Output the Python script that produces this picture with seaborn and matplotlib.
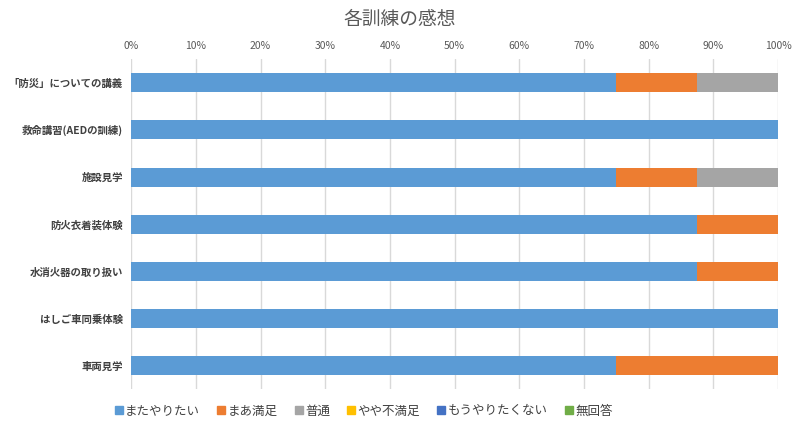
import matplotlib
matplotlib.use("Agg")
import matplotlib.pyplot as plt
import seaborn as sns
import pandas as pd
import numpy as np
from matplotlib.lines import Line2D

categories = ["「防災」についての講義", "救命講習(AEDの訓練)", "施設見学", "防火衣着装体験",
              "水消火器の取り扱い", "はしご車同乗体験", "車両見学"]
series_names = ["またやりたい", "まあ満足", "普通", "やや不満足", "もうやりたくない", "無回答"]
mata = [75, 100, 75, 87.5, 87.5, 100, 75]
maa = [12.5, 0, 12.5, 12.5, 12.5, 0, 25]
futsu = [12.5, 0, 12.5, 0, 0, 0, 0]
yaya = [0, 0, 0, 0, 0, 0, 0]
mou = [0, 0, 0, 0, 0, 0, 0]
mukaitou = [0, 0, 0, 0, 0, 0, 0]
colors = ["#5B9BD5", "#ED7D31", "#A5A5A5", "#FFC000", "#4472C4", "#70AD47"]
xticks = [0, 10, 20, 30, 40, 50, 60, 70, 80, 90, 100]

sns.set_theme(style="white")
plt.rcParams['font.family'] = ['Noto Sans CJK JP', 'DejaVu Sans']

fig = plt.figure(figsize=(8, 4.28), dpi=100)
ax = fig.add_axes([0.164, 0.09, 0.8085, 0.772])

vals = np.array([mata, maa, futsu, yaya, mou, mukaitou], dtype=float)
cum = np.cumsum(vals, axis=0)
for i in range(len(series_names) - 1, -1, -1):
    df = pd.DataFrame({"cat": categories, "val": cum[i]})
    sns.barplot(data=df, y="cat", x="val", color=colors[i], orient="h",
                width=0.4, ax=ax, saturation=1, linewidth=0, zorder=3)

ax.set_xlim(0, 100)
ax.set_xticks(xticks)
ax.set_xticklabels([f"{t}%" for t in xticks], fontsize=7.5, color="#595959")
ax.xaxis.tick_top()
ax.tick_params(axis="x", length=0, pad=6)
ax.tick_params(axis="y", length=0, pad=6)
for lab in ax.get_yticklabels():
    lab.set_fontsize(7.5)
    lab.set_fontweight("bold")
    lab.set_color("#404040")
ax.set_xlabel("")
ax.set_ylabel("")
ax.grid(axis="x", color="#D9D9D9", linewidth=1, zorder=0)
for s in ax.spines.values():
    s.set_visible(False)

fig.text(0.5, 0.955, "各訓練の感想", ha="center", va="center", fontsize=13.5, color="#595959")

handles = [Line2D([0], [0], marker="s", linestyle="", markersize=5.5,
                  markerfacecolor=c, markeredgecolor=c) for c in colors]
fig.legend(handles, series_names, loc="center", bbox_to_anchor=(0.454, 0.04), ncol=6,
           frameon=False, fontsize=9, handletextpad=0.1, columnspacing=1.3,
           labelcolor="#404040", handlelength=0.8)

fig.savefig("out.png", dpi=100)
